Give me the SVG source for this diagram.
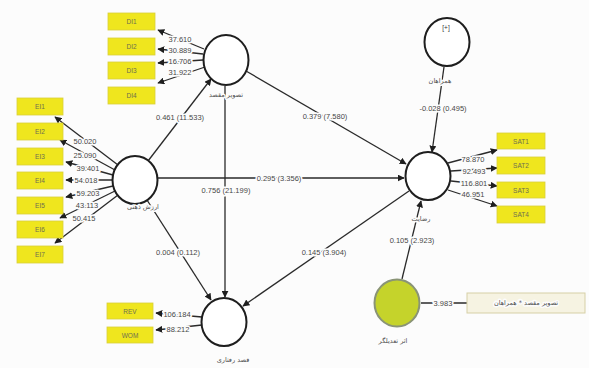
<svg xmlns="http://www.w3.org/2000/svg" width="589" height="368" viewBox="0 0 589 368">
<defs>
<marker id="ah" viewBox="0 0 10 10" refX="9" refY="5" markerWidth="7" markerHeight="7" orient="auto-start-reverse" markerUnits="userSpaceOnUse">
<path d="M0,0 L10,5 L0,10 z" fill="#1e1e1e"/>
</marker>
<style>
.bg{fill:#fcfcfc}
.lv{fill:#ffffff;stroke:#1e1e1e;stroke-width:2}
.mod{fill:#c5d32b;stroke:#8a9476;stroke-width:2}
.ind{fill:#efe61e;stroke:#d9cf3a;stroke-width:0.8}
.it{font-family:"Liberation Sans",Arial,sans-serif;font-size:6.5px;fill:#6e6e50;text-anchor:middle;dominant-baseline:central}
.ln{stroke:#2a2a2a;stroke-width:1.4;fill:none}
.lm{stroke:#2a2a2a;stroke-width:1.3;fill:none;marker-end:url(#ah)}
.num{font-family:"Liberation Sans",Arial,sans-serif;font-size:7.5px;fill:#474747;text-anchor:middle;dominant-baseline:central;paint-order:stroke;stroke:#fcfcfc;stroke-width:3.2px;stroke-linejoin:round}
.fa{font-family:"DejaVu Sans","Noto Sans",sans-serif;font-size:6.5px;fill:#4f4f4f;text-anchor:middle;dominant-baseline:central;paint-order:stroke;stroke:#fcfcfc;stroke-width:3px;stroke-linejoin:round}
.ibox{fill:#f6f3e2;stroke:#d6cfa6;stroke-width:1}
</style>
</defs>
<rect class="bg" x="0" y="0" width="589" height="368"/>

<g id="connectors">
<line class="lm" x1="148" y1="161" x2="211" y2="79"/>
<line class="lm" x1="246" y1="71" x2="406" y2="164"/>
<line class="lm" x1="158" y1="178" x2="404" y2="178"/>
<line class="lm" x1="225" y1="86" x2="225" y2="297"/>
<line class="lm" x1="147" y1="200" x2="211" y2="300"/>
<line class="lm" x1="409" y1="191" x2="243" y2="306"/>
<line class="lm" x1="402" y1="279" x2="421" y2="201"/>
<line class="lm" x1="444" y1="67" x2="432" y2="152"/>
<line class="ln" x1="421" y1="303" x2="467" y2="303"/>
<line class="lm" x1="204" y1="49" x2="158" y2="30"/>
<line class="lm" x1="203" y1="54" x2="158" y2="49"/>
<line class="lm" x1="203" y1="60" x2="158" y2="63"/>
<line class="lm" x1="205" y1="67" x2="158" y2="83"/>
<line class="lm" x1="118" y1="165" x2="55" y2="117"/>
<line class="lm" x1="115" y1="170" x2="60" y2="140"/>
<line class="lm" x1="113" y1="175" x2="66" y2="162"/>
<line class="lm" x1="112" y1="180" x2="66" y2="180"/>
<line class="lm" x1="113" y1="186" x2="66" y2="197"/>
<line class="lm" x1="115" y1="191" x2="60" y2="218"/>
<line class="lm" x1="118" y1="195" x2="55" y2="243"/>
<line class="lm" x1="448" y1="163" x2="497" y2="150"/>
<line class="lm" x1="451" y1="171" x2="497" y2="168"/>
<line class="lm" x1="451" y1="181" x2="497" y2="186"/>
<line class="lm" x1="448" y1="190" x2="497" y2="206"/>
<line class="lm" x1="202" y1="317" x2="156" y2="313"/>
<line class="lm" x1="202" y1="325" x2="156" y2="330"/>

<text class="num" x="180" y="117">0.461 (11.533)</text>
<text class="num" x="325" y="116">0.379 (7.580)</text>
<text class="num" x="279" y="178">0.295 (3.356)</text>
<text class="num" x="226" y="190">0.756 (21.199)</text>
<text class="num" x="178" y="252">0.004 (0.112)</text>
<text class="num" x="324" y="252">0.145 (3.904)</text>
<text class="num" x="412" y="240">0.105 (2.923)</text>
<text class="num" x="443" y="108">-0.028 (0.495)</text>
<text class="num" x="443" y="303">3.983</text>
<text class="num" x="180" y="39">37.610</text>
<text class="num" x="180" y="50">30.889</text>
<text class="num" x="180" y="61">16.706</text>
<text class="num" x="180" y="72">31.922</text>
<text class="num" x="85" y="141">50.020</text>
<text class="num" x="85" y="155">25.090</text>
<text class="num" x="88" y="168">39.401</text>
<text class="num" x="86" y="180">54.018</text>
<text class="num" x="88" y="193">59.203</text>
<text class="num" x="87" y="205">43.113</text>
<text class="num" x="84" y="218">50.415</text>
<text class="num" x="473" y="159">78.870</text>
<text class="num" x="474" y="171">92.493</text>
<text class="num" x="474" y="183">116.801</text>
<text class="num" x="473" y="194">46.951</text>
<text class="num" x="177" y="314">106.184</text>
<text class="num" x="178" y="329">88.212</text>
</g>

<g id="node-destination-image">
<ellipse class="lv" cx="226" cy="60" rx="22.5" ry="25"/>
<text class="fa" x="226" y="95">تصویر مقصد</text>
</g>
<g id="node-mental-value">
<ellipse class="lv" cx="135" cy="180" rx="22.5" ry="24"/>
<text class="fa" x="143" y="207">ارزش ذهنی</text>
</g>
<g id="node-satisfaction">
<ellipse class="lv" cx="428" cy="176" rx="22.5" ry="24"/>
<text class="fa" x="421" y="219">رضایت</text>
</g>
<g id="node-companions">
<ellipse class="lv" cx="447" cy="42" rx="22.5" ry="24"/>
<text class="it" x="446" y="27" style="fill:#333">[+]</text>
<text class="fa" x="440" y="81">همراهان</text>
</g>
<g id="node-behavioral-intention">
<ellipse class="lv" cx="224" cy="322" rx="22.5" ry="24"/>
<text class="fa" x="233" y="360">قصد رفتاری</text>
</g>
<g id="node-moderator">
<ellipse class="mod" cx="397" cy="303" rx="22.5" ry="23.5"/>
<text class="fa" x="393" y="341">اثر تعدیلگر</text>
</g>
<g id="node-interaction">
<rect class="ibox" x="467" y="293" width="118" height="20"/>
<text class="fa" x="526" y="303">تصویر مقصد * همراهان</text>
</g>

<g id="node-DI1"><rect class="ind" x="108" y="13" width="47" height="17"/><text class="it" x="131.5" y="21.5">DI1</text></g>
<g id="node-DI2"><rect class="ind" x="108" y="38" width="47" height="17"/><text class="it" x="131.5" y="46.5">DI2</text></g>
<g id="node-DI3"><rect class="ind" x="108" y="62" width="47" height="17"/><text class="it" x="131.5" y="70.5">DI3</text></g>
<g id="node-DI4"><rect class="ind" x="108" y="87" width="47" height="17"/><text class="it" x="131.5" y="95.5">DI4</text></g>

<g id="node-EI1"><rect class="ind" x="17" y="98" width="46" height="17"/><text class="it" x="40" y="106.5">EI1</text></g>
<g id="node-EI2"><rect class="ind" x="17" y="123" width="46" height="17"/><text class="it" x="40" y="131.5">EI2</text></g>
<g id="node-EI3"><rect class="ind" x="17" y="148" width="46" height="17"/><text class="it" x="40" y="156.5">EI3</text></g>
<g id="node-EI4"><rect class="ind" x="17" y="172" width="46" height="17"/><text class="it" x="40" y="180.5">EI4</text></g>
<g id="node-EI5"><rect class="ind" x="17" y="197" width="46" height="17"/><text class="it" x="40" y="205.5">EI5</text></g>
<g id="node-EI6"><rect class="ind" x="17" y="221" width="46" height="17"/><text class="it" x="40" y="229.5">EI6</text></g>
<g id="node-EI7"><rect class="ind" x="17" y="246" width="46" height="17"/><text class="it" x="40" y="254.5">EI7</text></g>

<g id="node-SAT1"><rect class="ind" x="497" y="133" width="48" height="16"/><text class="it" x="521" y="141">SAT1</text></g>
<g id="node-SAT2"><rect class="ind" x="497" y="157" width="48" height="17"/><text class="it" x="521" y="165.5">SAT2</text></g>
<g id="node-SAT3"><rect class="ind" x="497" y="182" width="48" height="16"/><text class="it" x="521" y="190">SAT3</text></g>
<g id="node-SAT4"><rect class="ind" x="497" y="206" width="48" height="17"/><text class="it" x="521" y="214.5">SAT4</text></g>

<g id="node-REV"><rect class="ind" x="107" y="303" width="46" height="16"/><text class="it" x="130" y="311">REV</text></g>
<g id="node-WOM"><rect class="ind" x="107" y="327" width="46" height="16"/><text class="it" x="130" y="335">WOM</text></g>
</svg>
